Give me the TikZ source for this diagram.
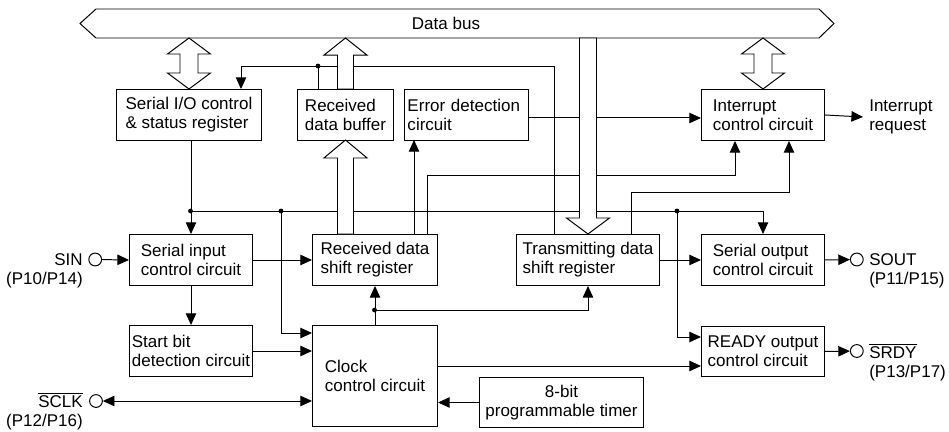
\documentclass[tikz,border=0pt]{standalone}
\usepackage{fontspec}
\setsansfont{Liberation Sans}
\usetikzlibrary{arrows.meta,calc}

\begin{document}
\begin{tikzpicture}[
  every node/.style={font=\sffamily\fontsize{12.1}{13.5}\selectfont},
  blk/.style={draw,line width=0.7pt,anchor=north west,minimum height=1.275cm,align=left,inner sep=1pt},
  wire/.style={line width=0.7pt},
  arr/.style={wire,-{Triangle[length=2.9mm,width=2.6mm]}},
  darr/.style={wire,{Triangle[length=2.9mm,width=2.6mm]}-{Triangle[length=2.9mm,width=2.6mm]}},
  fat/.style={draw,fill=white,line width=0.7pt,line join=miter},
  pinc/.style={circle,draw,fill=white,line width=0.7pt,minimum size=3.2mm,inner sep=0pt},
  lbl/.style={inner sep=0pt}
]

% ---- canvas ----
\useasboundingbox (0,0) rectangle (23.725,-10.8);

% ---- data bus ----
\draw[wire] (2.0,-0.5875) -- (2.4,-0.225) -- (20.475,-0.225) -- (20.85,-0.5875)
  -- (20.475,-0.95) -- (2.4,-0.95) -- cycle;
\node (bus) at (11.15,-0.5875) {Data bus};

% ---- top row ----
\node[blk,minimum width=3.625cm] (sio) at (2.9,-2.225) {Serial I/O control\\\& status register};
\node[blk,minimum width=2.4cm] (buf) at (7.425,-2.225) {Received\\data buffer};
\node[blk,minimum width=3.1cm,text width=2.95cm] (err) at (10.1,-2.225) {Error detection\\circuit};
\node[blk,minimum width=3.075cm] (int) at (17.525,-2.225) {Interrupt\\control circuit};
\node[anchor=west,align=left,inner xsep=0.15cm,inner ysep=0pt] (irq) at (21.575,-2.925)
  {Interrupt\\request};

% ---- middle row ----
\node[blk,minimum width=3.075cm] (sic) at (3.225,-5.85) {Serial input\\control circuit};
\node[blk,minimum width=3.125cm] (rsr) at (7.8,-5.85) {Received data\\shift register};
\node[blk,minimum width=3.575cm] (tsr) at (12.9,-5.85) {Transmitting data\\shift register};
\node[blk,minimum width=3.075cm] (soc) at (17.525,-5.85) {Serial output\\control circuit};

% ---- bottom row ----
\node[blk,minimum width=3.075cm] (sbd) at (3.225,-8.125) {Start bit\\detection circuit};
\node[blk,minimum width=3.125cm,minimum height=2.525cm] (clk) at (7.8,-8.125)
  {Clock\\control circuit};
\node[blk,minimum width=3.075cm,minimum height=1.25cm] (rdy) at (17.525,-8.15)
  {READY output\\control circuit};
\node[blk,align=center,minimum width=4.1cm,minimum height=1.25cm] (tmr) at (11.975,-9.425)
  {8-bit\\programmable timer};

% ---- pins ----
\node[pinc] (sin) at (2.38,-6.4875) {};
\node[lbl,anchor=east,align=right] (sinl) at (2.075,-6.775) {SIN\\(P10/P14)};
\node[pinc] (sclk) at (2.4,-10.025) {};
\node[lbl,anchor=east,align=right] (sclkl) at (2.075,-10.275) {$\overline{\mbox{SCLK}}$\\(P12/P16)};
\node[pinc] (sout) at (21.42,-6.4875) {};
\node[lbl,anchor=west,align=left] (soutl) at (21.725,-6.775) {SOUT\\(P11/P15)};
\node[pinc] (srdy) at (21.42,-8.775) {};
\node[lbl,anchor=west,align=left] (srdyl) at (21.725,-9.05) {$\overline{\mbox{SRDY}}$\\(P13/P17)};

% ---- status lines into the control register ----
\coordinate (t1) at (13.85,-1.65);
\coordinate (t2) at (6.025,-1.65);
\coordinate (b1) at (7.95,-1.65);
\draw[arr] (t1 |- tsr.north) -- (t1) -- (t2) -- (t2 |- sio.north);
\draw[wire] (b1) -- (b1 |- buf.north);

% ---- error / interrupt lines ----
\coordinate (ee) at ($(err.east)+(0,-0.075)$);
\draw[arr] (ee) -- (ee -| int.west);
\coordinate (e1) at (10.35,-3.5);
\draw[arr] (e1 |- rsr.north) -- (e1);
\coordinate (e2) at (10.675,-4.375);
\coordinate (i1) at (18.375,-4.375);
\draw[arr] (e2 |- rsr.north) -- (e2) -- (i1) -- (i1 |- int.south);
\coordinate (e3) at (15.775,-4.8);
\coordinate (i2) at (19.725,-4.8);
\draw[arr] (e3 |- tsr.north) -- (e3) -- (i2) -- (i2 |- int.south);
\draw[arr] (int.east) -- (irq.west);

% ---- control line from the status register ----
\coordinate (j1) at (4.7625,-5.275);
\coordinate (j2) at (7.025,-5.275);
\coordinate (j3) at (16.925,-5.275);
\draw[arr] (sic.north |- sio.south) -- (sic.north);
\draw[arr] (j1) -| (soc.north);
\draw[arr] (j2) |- ($(clk.north west)+(0,-0.2)$);
\draw[arr] (j3) |- ($(rdy.north west)+(0,-0.275)$);

% ---- serial data path ----
\draw[arr] (sin) -- (sic.west);
\draw[arr] (sic.east) -- (rsr.west);
\draw[arr] (sic.south) -- (sbd.north);
\draw[arr] (sbd.east) -- (sbd.east -| clk.west);
\draw[arr] (tsr.east) -- (soc.west);
\draw[arr] (soc.east) -- (sout);
\draw[arr] (rdy.east) -- (srdy);

% ---- clock distribution ----
\coordinate (j4) at (9.3625,-7.75);
\draw[arr] (clk.north) -- (rsr.south);
\draw[arr] (j4) -| (tsr.south);
\coordinate (ck) at ($(clk.north east)+(0,-1.025)$);
\draw[arr] (ck) -- (ck -| rdy.west);
\draw[arr] (tmr.west) -- (tmr.west -| clk.east);
\draw[darr] (sclk) -- (sclk -| clk.west);

% ---- wide buses (over the wires) ----
\draw[fat] (sio.north) -- ++(-0.5375,0.4) -- ++(0.3125,0) -- ++(0,0.475) -- ++(-0.3125,0)
  -- ++(0.5375,0.4) -- ++(0.5375,-0.4) -- ++(-0.3125,0) -- ++(0,-0.475) -- ++(0.3125,0) -- cycle;
\draw[fat] (int.north) -- ++(-0.5375,0.4) -- ++(0.3125,0) -- ++(0,0.475) -- ++(-0.3125,0)
  -- ++(0.5375,0.4) -- ++(0.5375,-0.4) -- ++(-0.3125,0) -- ++(0,-0.475) -- ++(0.3125,0) -- cycle;
\draw[fat] (buf.north) ++(-0.2,0) -- ++(0,0.845) -- ++(-0.34,0) -- ++(0.54,0.43)
  -- ++(0.54,-0.43) -- ++(-0.34,0) -- ++(0,-0.845) -- cycle;
\draw[fat] (buf.south |- rsr.north) ++(-0.2,0) -- ++(0,1.9) -- ++(-0.34,0) -- ++(0.54,0.45)
  -- ++(0.54,-0.45) -- ++(-0.34,0) -- ++(0,-1.9) -- cycle;
\draw[fat] (tsr.north) -- ++(-0.5375,0.4) -- ++(0.325,0) -- ++(0,4.5) -- ++(0.425,0)
  -- ++(0,-4.5) -- ++(0.325,0) -- cycle;

% ---- junction dots ----
\foreach \j in {b1,j1,j2,j3,j4}
  \fill (\j) circle (0.06);

\end{tikzpicture}
\end{document}
